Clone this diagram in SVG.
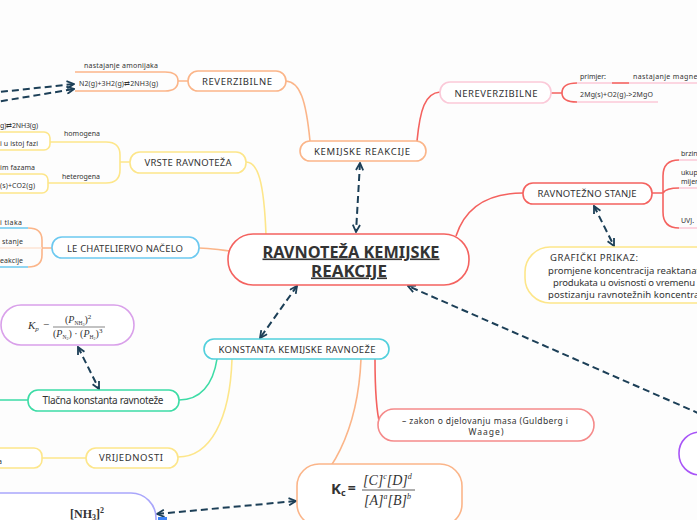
<svg xmlns="http://www.w3.org/2000/svg" width="697" height="520" viewBox="0 0 697 520">
<style>
text{font-family:"Noto Sans","Open Sans",sans-serif;fill:#333}
.n{font-size:9.5px;text-anchor:middle}
.s{font-size:7px}
.c{fill:none;stroke-width:1.6}
.box{fill:#fff;stroke-width:1.6}
.d{fill:none;stroke:#1c3f57;stroke-width:2;stroke-dasharray:7 4}
.ser{font-family:"Liberation Serif","DejaVu Serif",serif}
</style>
<defs>
<marker id="ah" viewBox="0 0 10 10" refX="9" refY="5" markerWidth="9" markerHeight="9" markerUnits="userSpaceOnUse" orient="auto-start-reverse">
<path d="M1,1 L9,5 L1,9" fill="none" stroke="#1c3f57" stroke-width="2"/>
</marker>
</defs>
<rect width="697" height="520" fill="#fdfdfd"/>
<g id="connectors">
<path class="c" stroke="#fde68a" d="M246,162 C258,162 264,182 266,235"/>
<path class="c" stroke="#fbb589" d="M199,248 C212,248 218,250 230,251"/>
<path class="c" stroke="#f4625f" stroke-width="2" d="M456,236 C466,205 490,193 523,193"/>
<path class="c" stroke="#fbb589" d="M310,141 C306,100 300,82 286,81"/>
<path class="c" stroke="#f4625f" d="M417,141 C420,110 425,93 440,92"/>
<path class="c" stroke="#f4625f" d="M551,93 H562 M577,83 Q562,83 562,93 Q562,102 577,102"/>
<path class="c" stroke="#fbc9d8" d="M577,83 H612 M629,83 H697 M577,102 H658"/>
<path class="c" stroke="#f4625f" d="M612,83 H629"/>
<path class="c" stroke="#f4625f" d="M652,193 H663 M679,160 Q663,160 663,176 V212 Q663,228 679,228 M663,193 Q666,188 679,188"/>
<path class="c" stroke="#fbc9d8" d="M679,160 H697 M679,188 H697 M679,228 H697"/>
<path class="c" stroke="#fbb589" d="M188,81 H178 M165,72 Q178,72 178,81 Q178,91 165,91"/>
<path class="c" stroke="#fbb589" d="M75,72 H165 M75,91 H165"/>
<path class="c" stroke="#fde68a" d="M130,162 H120 M106,142 Q120,142 120,155 V170 Q120,183 106,183 M50,142 H106 M48,183 H106"/>
<path class="c" stroke="#fbb589" d="M52,248 H42 M28,228 Q42,228 42,240 V255 Q42,267 28,267"/>
<path class="c" stroke="#fde3d3" d="M0,248 H42"/>
<path class="c" stroke="#6cc9f0" d="M0,228 H28 M0,267 H28"/>
<path class="c" stroke="#3ddca6" d="M217,359 C213,385 200,400 179,400 M0,400 H28"/>
<path class="c" stroke="#fde68a" d="M232,359 C230,420 210,457 178,457 M42,458 H86"/>
<path class="c" stroke="#f4625f" d="M375,359 C375,390 376,410 380,425"/>
<path class="c" stroke="#fbb589" d="M361,359 C358,430 330,485 297,493"/>
<path class="d" d="M360,163 L356,232" marker-start="url(#ah)" marker-end="url(#ah)"/>
<path class="d" d="M297,286 L260,338" marker-start="url(#ah)" marker-end="url(#ah)"/>
<path class="d" d="M594,206 L614,246" marker-start="url(#ah)" marker-end="url(#ah)"/>
<path class="d" d="M730,427 L408,286" marker-end="url(#ah)"/>
<path class="d" d="M78,347 L99,389" marker-start="url(#ah)" marker-end="url(#ah)"/>
<path class="d" d="M157,514 L296,501" marker-start="url(#ah)" marker-end="url(#ah)"/>
<path class="d" d="M-10,93 L74,84" marker-end="url(#ah)"/>
<path class="d" d="M-10,103 L74,89" marker-end="url(#ah)"/>
</g>
<g id="central">
<rect class="box" x="228" y="234" width="241" height="51" rx="25" stroke="#f4625f" stroke-width="3"/>
<text x="351" y="257.5" text-anchor="middle" font-size="16" font-weight="bold" text-decoration="underline" textLength="177" lengthAdjust="spacingAndGlyphs">RAVNOTEŽA KEMIJSKE</text>
<text x="349" y="276.5" text-anchor="middle" font-size="16" font-weight="bold" text-decoration="underline" textLength="76" lengthAdjust="spacingAndGlyphs">REAKCIJE</text>
</g>
<g id="kemijske-reakcije">
<rect class="box" x="300" y="141" width="126" height="20" rx="10" stroke="#fbb589"/>
<text class="n" x="362" y="155" textLength="96">KEMIJSKE REAKCIJE</text>
</g>
<g id="reverzibilne">
<rect class="box" x="188" y="71" width="98" height="20" rx="10" stroke="#fbb589"/>
<text class="n" x="237" y="84.5" textLength="70">REVERZIBILNE</text>
<text class="s" x="84" y="67.5" textLength="74">nastajanje amonijaka</text>
<text class="s" x="79" y="86" textLength="79">N2(g)+3H2(g)⇄2NH3(g)</text>
</g>
<g id="nereverzibilne">
<rect class="box" x="440" y="82" width="111" height="21" rx="10" stroke="#fbc9d8"/>
<text class="n" x="496" y="96.5" textLength="83">NEREVERZIBILNE</text>
<text class="s" x="580" y="78.5" textLength="26">primjer:</text>
<text class="s" x="633" y="78.5" textLength="68">nastajanje magnez</text>
<text class="s" x="580" y="96.5" textLength="73">2Mg(s)+O2(g)-&gt;2MgO</text>
</g>
<g id="ravnotezno-stanje">
<rect class="box" x="523" y="183" width="129" height="21" rx="10" stroke="#f4625f"/>
<text class="n" x="587" y="196.5" textLength="99">RAVNOTEŽNO STANJE</text>
<text class="s" x="681" y="155.5">brzin</text>
<text class="s" x="681" y="174.5">ukup</text>
<text class="s" x="681" y="183.5">mijer</text>
<text class="s" x="681" y="222.5">UVJ.</text>
</g>
<g id="graficki-prikaz">
<rect class="box" x="525" y="247" width="200" height="56" rx="25" stroke="#fde68a"/>
<text x="550" y="261" font-size="9.5" textLength="88">GRAFIČKI PRIKAZ:</text>
<text x="548" y="273.5" font-size="9.5" textLength="152">promjene koncentracija reaktanat</text>
<text x="553" y="285.5" font-size="9.5" textLength="142">produkata u ovisnosti o vremenu</text>
<text x="548" y="297.5" font-size="9.5" textLength="156">postizanju ravnotežnih koncentrac</text>
</g>
<g id="vrste-ravnoteza">
<rect class="box" x="130" y="152" width="116" height="21" rx="10" stroke="#fde68a"/>
<text class="n" x="188" y="165.5" textLength="87">VRSTE RAVNOTEŽA</text>
<text class="s" x="0" y="127.5" textLength="38">g)⇄2NH3(g)</text>
<rect class="box" x="-20" y="132" width="70" height="18" rx="6" stroke="#fde68a"/>
<text class="s" x="0" y="145.5" textLength="38">i u istoj fazi</text>
<text class="s" x="64" y="135.5" textLength="36">homogena</text>
<text class="s" x="0" y="169.5" textLength="35">im fazama</text>
<rect class="box" x="-20" y="174" width="68" height="19" rx="6" stroke="#fde68a"/>
<text class="s" x="0" y="187.5" textLength="35">(s)+CO2(g)</text>
<text class="s" x="62" y="178.5" textLength="38">heterogena</text>
</g>
<g id="le-chatelier">
<rect class="box" x="52" y="237" width="147" height="21" rx="10" stroke="#6cc9f0"/>
<text class="n" x="125" y="251.5" textLength="116">LE CHATELIERVO NAČELO</text>
<text class="s" x="0" y="224.5" textLength="22">i tlaka</text>
<text class="s" x="2" y="243.5" textLength="21">stanje</text>
<text class="s" x="0" y="262.5" textLength="23">eakcije</text>
</g>
<g id="konstanta">
<rect class="box" x="204" y="339" width="185" height="20" rx="10" stroke="#52d0dc"/>
<text class="n" x="297" y="352.5" textLength="157">KONSTANTA KEMIJSKE RAVNOEŽE</text>
</g>
<g id="kp">
<rect class="box" x="1" y="305" width="133" height="40" rx="20" stroke="#d9a0ea"/>
<text class="ser" x="28" y="329" font-size="11" font-style="italic">K<tspan font-size="7" dy="2">p</tspan></text>
<text class="ser" x="43" y="328" font-size="11">−</text>
<text class="ser" x="65" y="323" font-size="10">(<tspan font-style="italic">P</tspan><tspan font-size="5.5" dy="1.5">NH</tspan><tspan font-size="4" dy="1">3</tspan><tspan dy="-2.5">)</tspan><tspan font-size="7" dy="-4">2</tspan></text>
<path d="M53,327 H105" stroke="#333" stroke-width="0.6"/>
<text class="ser" x="53" y="337" font-size="10">(<tspan font-style="italic">P</tspan><tspan font-size="5.5" dy="1.5">N</tspan><tspan font-size="4" dy="1">2</tspan><tspan dy="-2.5">) · (</tspan><tspan font-style="italic">P</tspan><tspan font-size="5.5" dy="1.5">H</tspan><tspan font-size="4" dy="1">2</tspan><tspan dy="-2.5">)</tspan><tspan font-size="7" dy="-4">3</tspan></text>
</g>
<g id="tlacna">
<rect class="box" x="28" y="390" width="151" height="21" rx="10" stroke="#3ddca6"/>
<text x="103" y="403.5" font-size="10" text-anchor="middle" textLength="121">Tlačna konstanta ravnoteže</text>
</g>
<g id="vrijednosti">
<rect class="box" x="86" y="448" width="92" height="20" rx="10" stroke="#fde68a"/>
<text class="n" x="131" y="461" textLength="64">VRIJEDNOSTI</text>
<rect class="box" x="-20" y="448" width="62" height="20" rx="8" stroke="#fde68a"/>
<text class="s" x="-2" y="463.5">a</text>
</g>
<g id="zakon">
<rect class="box" x="378" y="409" width="216" height="32" rx="16" stroke="#f58a8a"/>
<text x="485" y="423.5" font-size="8.5" text-anchor="middle" textLength="166">– zakon o djelovanju masa (Guldberg i</text>
<text x="486" y="435" font-size="8.5" text-anchor="middle" textLength="35">Waage)</text>
</g>
<g id="kc">
<rect class="box" x="297" y="464" width="165" height="62" rx="22" stroke="#fbb589"/>
<rect x="313" y="468" width="134" height="52" fill="#fff"/>
<text x="331" y="494" font-family="Liberation Sans,Arial,sans-serif" font-size="15" font-weight="bold">K<tspan font-size="9" dy="2">c</tspan><tspan font-size="14" dy="-3" dx="2">=</tspan></text>
<text class="ser" x="363" y="485" font-size="14" font-style="italic">[C]<tspan font-size="8" dy="-6">c</tspan><tspan dy="6">[D]</tspan><tspan font-size="8" dy="-6">d</tspan></text>
<path d="M362,490 H415" stroke="#333" stroke-width="0.8"/>
<text class="ser" x="364" y="505" font-size="14" font-style="italic">[A]<tspan font-size="8" dy="-6">a</tspan><tspan dy="6">[B]</tspan><tspan font-size="8" dy="-6">b</tspan></text>
</g>
<g id="nh3">
<rect class="box" x="-30" y="493" width="186" height="60" rx="25" stroke="#a9a6fb"/>
<text class="ser" x="70" y="518" font-size="12" font-weight="bold">[NH<tspan font-size="8" dy="2">3</tspan><tspan dy="-2">]</tspan><tspan font-size="8" dy="-5">2</tspan></text>
<text class="ser" x="32" y="528" font-size="12" font-style="italic">K</text>
<rect x="158" y="517" width="9" height="3" fill="#3b82f6"/>
</g>
<g id="right-node">
<rect class="box" x="679" y="432" width="80" height="43" rx="21" stroke="#a855f7"/>
</g>
</svg>
